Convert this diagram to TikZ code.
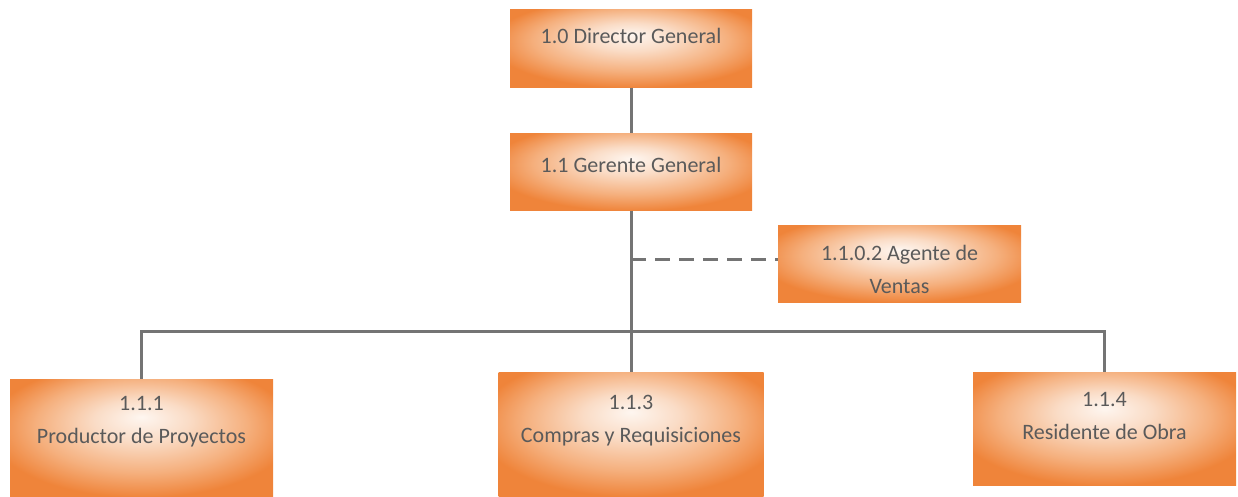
\documentclass[tikz,border=0pt]{standalone}
\usepackage{fontspec}
\setmainfont{Carlito}
\definecolor{boxcore}{HTML}{FEF6F0}
\definecolor{boxmid}{HTML}{FADCC6}
\definecolor{boxwarm}{HTML}{F5B07E}
\definecolor{boxedge}{HTML}{EF843A}
\definecolor{labelgray}{HTML}{5A5A5A}
\definecolor{linkgray}{HTML}{747474}
% soft orange glow, lightest towards the top centre of each box
\pgfdeclareradialshading{boxglow}{\pgfpoint{0bp}{9bp}}{%
  color(0bp)=(boxcore); color(9bp)=(boxmid); color(20bp)=(boxwarm);
  color(29bp)=(boxedge); color(50bp)=(boxedge)}
% text block whose first baseline sits #1 above the node centre
\newcommand{\boxtext}[2]{\raisebox{#1}[0pt][0pt]{\begin{tabular}[t]{@{}c@{}}#2\end{tabular}}}
\begin{document}
\begin{tikzpicture}[x=1pt,y=-1pt,
  unit/.style={rectangle, inner sep=0pt, shading=boxglow, text=labelgray,
    font=\fontsize{22}{33}\selectfont},
  link/.style={draw=linkgray, line width=3pt},
  dashlink/.style={draw=linkgray, line width=3pt, dash pattern=on 15pt off 9pt}]
\useasboundingbox (0,0) rectangle (1238,497);

% boxes
\node[unit, minimum width=242pt, minimum height=78pt] (dg) at (631,48.5)
  {\boxtext{4.7pt}{1.0 Director General}};
\node[unit, minimum width=242pt, minimum height=77pt] (gg) at (631,172)
  {\boxtext{0pt}{1.1 Gerente General}};
\node[unit, minimum width=243pt, minimum height=77pt] (av) at (899.5,263.5)
  {\boxtext{2.7pt}{1.1.0.2 Agente de\\Ventas}};
\node[unit, minimum width=263pt, minimum height=118pt] (pp) at (141.5,438)
  {\boxtext{28pt}{1.1.1\\Productor de Proyectos}};
\node[unit, minimum width=265pt, minimum height=124pt] (cr) at (631,434)
  {\boxtext{25pt}{1.1.3\\Compras y Requisiciones}};
\node[unit, minimum width=263pt, minimum height=113pt] (ro) at (1104.5,428.5)
  {\boxtext{21.7pt}{1.1.4\\Residente de Obra}};

% connectors
\coordinate (hub) at (631,331);
\coordinate (tap) at (631,259);
\draw[link] (dg.south) -- (gg.north);
\draw[link] (gg.south) -- (hub);
\draw[link] (pp.north) |- (hub) -| (ro.north);
\draw[link] (hub) -- (cr.north);
\draw[dashlink] (tap) -- (tap -| av.west);
\end{tikzpicture}
\end{document}
